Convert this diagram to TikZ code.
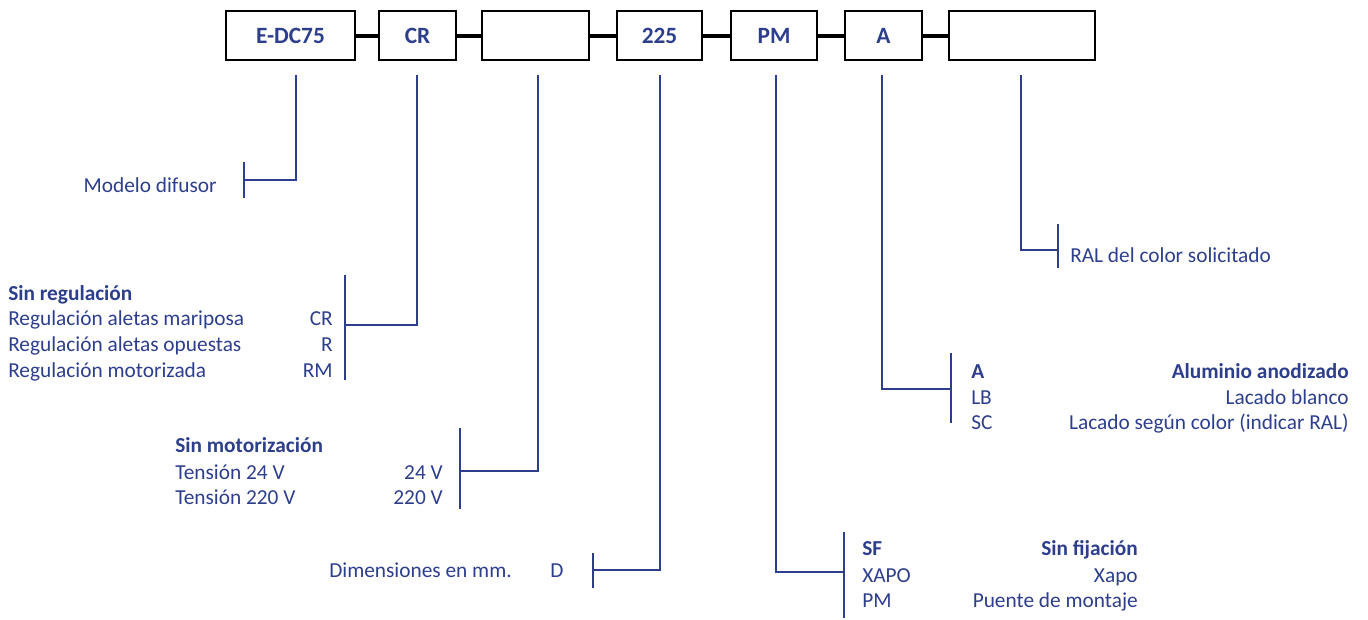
\documentclass[tikz,border=0pt]{standalone}
\usepackage{fontspec}
\setmainfont{Carlito}
\usepackage{xcolor}
\usepackage{tikz}
\usetikzlibrary{positioning}

\definecolor{codeblue}{RGB}{45,62,140}

\tikzset{
  codebox/.style={draw=black, line width=1.1pt, minimum height=36.75pt, inner sep=0pt, text=codeblue, font=\fontsize{17.5}{21}\selectfont\bfseries},
  joiner/.style={draw=black, line width=3pt},
  leader/.style={draw=codeblue, line width=2.1pt},
  lbl/.style={text=codeblue, inner sep=0pt, font=\fontsize{16}{19}\selectfont},
  lblb/.style={lbl, font=\fontsize{16}{19}\selectfont\bfseries}
}

\begin{document}
\begin{tikzpicture}[x=0.75pt,y=0.75pt,yscale=-1,xscale=1]
\useasboundingbox (0,0) rectangle (1368,619);

%Shape: code boxes
\node [codebox, minimum width=96.75pt] (bmodel) at (290.5,35.5) {E-DC75};
\node [codebox, minimum width=57.75pt] (breg) at (417.5,35.5) {CR};
\node [codebox, minimum width=80.25pt] (bmot) at (535.5,35.5) {};
\node [codebox, minimum width=63.75pt] (bdim) at (659.5,35.5) {225};
\node [codebox, minimum width=64.5pt] (bfix) at (774,35.5) {PM};
\node [codebox, minimum width=57.75pt] (bfin) at (883.5,35.5) {A};
\node [codebox, minimum width=109.5pt] (bral) at (1022,35.5) {};

% Connection
\draw [joiner] (bmodel) -- (breg);
\draw [joiner] (breg) -- (bmot);
\draw [joiner] (bmot) -- (bdim);
\draw [joiner] (bdim) -- (bfix);
\draw [joiner] (bfix) -- (bfin);
\draw [joiner] (bfin) -- (bral);

% drop points under the boxes
\coordinate (dmodel) at (296,75);
\coordinate (dreg) at (417,75);
\coordinate (dmot) at (538,75);
\coordinate (ddim) at (660,75);
\coordinate (dfix) at (776,75);
\coordinate (dfin) at (882,75);
\coordinate (dral) at (1021,75);

% bracket bars
\coordinate (kmodel) at (244,180);
\coordinate (kreg) at (345,325);
\coordinate (kmot) at (460,471);
\coordinate (kdim) at (593,570);
\coordinate (kfix) at (844,572);
\coordinate (kfin) at (951,389);
\coordinate (kral) at (1058,250);

\draw [leader] (dmodel) |- (kmodel);
\draw [leader] (dreg) |- (kreg);
\draw [leader] (dmot) |- (kmot);
\draw [leader] (ddim) |- (kdim);
\draw [leader] (dfix) |- (kfix);
\draw [leader] (dfin) |- (kfin);
\draw [leader] (dral) |- (kral);

\draw [leader] (244,162) -- (244,198);
\draw [leader] (345,275) -- (345,380);
\draw [leader] (460,428) -- (460,509);
\draw [leader] (593,553) -- (593,588);
\draw [leader] (844,532) -- (844,618);
\draw [leader] (951,353) -- (951,423);
\draw [leader] (1058,224) -- (1058,268);

% Text Node
\node [lbl, anchor=base east] (tmodel) at (217,192) {Modelo difusor};

% Text Node
\node [lblb, anchor=base west] (treg0) at (8,300) {Sin regulación};
\node [lbl, anchor=base west] (treg1) at (8,325) {Regulación aletas mariposa};
\node [lbl, anchor=base west] (treg2) at (8,351) {Regulación aletas opuestas};
\node [lbl, anchor=base west] (treg3) at (8,377) {Regulación motorizada};
\node [lbl, anchor=base east] (creg1) at (333,325) {CR};
\node [lbl, anchor=base east] (creg2) at (333,351) {R};
\node [lbl, anchor=base east] (creg3) at (333,377) {RM};

% Text Node
\node [lblb, anchor=base west] (tmot0) at (175,452) {Sin motorización};
\node [lbl, anchor=base west] (tmot1) at (175,479) {Tensión 24 V};
\node [lbl, anchor=base west] (tmot2) at (175,504) {Tensión 220 V};
\node [lbl, anchor=base east] (cmot1) at (443,479) {24 V};
\node [lbl, anchor=base east] (cmot2) at (443,504) {220 V};

% Text Node
\node [lbl, anchor=base west] (tdim) at (329,577) {Dimensiones en mm.};
\node [lbl, anchor=base west] (cdim) at (550,577) {D};

% Text Node
\node [lblb, anchor=base west] (cfix0) at (862,555) {SF};
\node [lbl, anchor=base west] (cfix1) at (862,582) {XAPO};
\node [lbl, anchor=base west] (cfix2) at (862,607) {PM};
\node [lblb, anchor=base east] (tfix0) at (1138,555) {Sin fijación};
\node [lbl, anchor=base east] (tfix1) at (1138,582) {Xapo};
\node [lbl, anchor=base east] (tfix2) at (1138,607) {Puente de montaje};

% Text Node
\node [lblb, anchor=base west] (cfin0) at (971,378) {A};
\node [lbl, anchor=base west] (cfin1) at (971,404) {LB};
\node [lbl, anchor=base west] (cfin2) at (971,429) {SC};
\node [lblb, anchor=base east] (tfin0) at (1349,378) {Aluminio anodizado};
\node [lbl, anchor=base east] (tfin1) at (1349,404) {Lacado blanco};
\node [lbl, anchor=base east] (tfin2) at (1349,429) {Lacado según color (indicar RAL)};

% Text Node
\node [lbl, anchor=base west] (tral) at (1070,262) {RAL del color solicitado};

\end{tikzpicture}
\end{document}
